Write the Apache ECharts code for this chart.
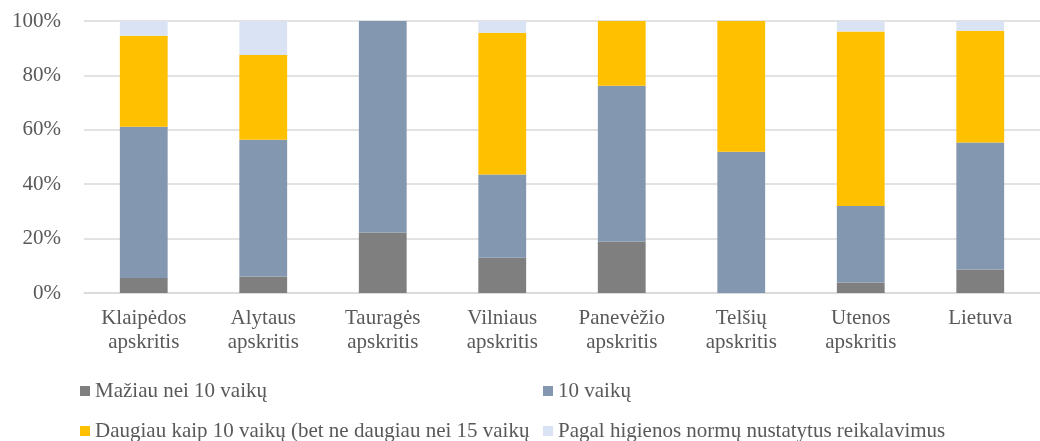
<!DOCTYPE html>
<html>
	<head>
		<meta charset="utf-8">
		<title>Grupės pagal vaikų skaičių</title>
		<style>
			html, body {
				width: 100%;
				height: 100%;
				margin: 0;
				padding: 0;
				background: #fff;
			}
			#main {
				width: 1040px;
				height: 441px;
			}
		</style>
	</head>
	<body>
		<div id="main"></div>
		<script src="https://cdn.jsdelivr.net/npm/echarts@6/dist/echarts.min.js"></script>
		<script>
			var categories = ['Klaipėdos\napskritis', 'Alytaus\napskritis', 'Tauragės\napskritis', 'Vilniaus\napskritis',
				'Panevėžio\napskritis', 'Telšių\napskritis', 'Utenos\napskritis', 'Lietuva'];
			var seriesNames = ['Mažiau nei 10 vaikų', '10 vaikų', 'Daugiau kaip 10 vaikų (bet ne daugiau nei 15 vaikų',
				'Pagal higienos normų nustatytus reikalavimus'];
			var lessThan10 = [5.5, 6.1, 22.2, 13.0, 18.9, 0, 3.9, 8.6];
			var exactly10 = [55.6, 50.2, 77.8, 30.6, 57.3, 51.9, 28.1, 46.7];
			var moreThan10 = [33.5, 31.2, 0, 52.1, 23.8, 48.1, 64.1, 41.1];
			var byHygiene = [5.4, 12.5, 0, 4.3, 0, 0, 3.9, 3.6];
			var yTicks = [0, 20, 40, 60, 80, 100];
			var colors = ['#7f7f7f', '#8497b0', '#ffc000', '#dae3f3'];

			var font = '"Liberation Serif", "Times New Roman", serif';
			var textColor = '#595959';
			var values = [lessThan10, exactly10, moreThan10, byHygiene];

			function legendAt(name, left, top) {
				return {
					data: [name],
					left: left,
					top: top,
					padding: 0,
					itemWidth: 10,
					itemHeight: 10,
					icon: 'rect',
					selectedMode: false,
					textStyle: {
						fontFamily: font,
						fontSize: 21,
						color: textColor,
						lineHeight: 24
					}
				};
			}

			var series = [];
			for (var i = 0; i < seriesNames.length; i++) {
				series.push({
					name: seriesNames[i],
					type: 'bar',
					stack: 'total',
					barWidth: '40%',
					itemStyle: {
						color: colors[i]
					},
					data: values[i]
				});
			}

			var chart = echarts.init(document.getElementById('main'), null, {renderer: 'canvas'});
			chart.setOption({
				animation: false,
				color: colors,
				grid: {
					left: 84,
					right: -10,
					top: 21,
					bottom: 148
				},
				legend: [
					legendAt(seriesNames[0], 80, 379),
					legendAt(seriesNames[1], 543, 379),
					legendAt(seriesNames[2], 80, 419),
					legendAt(seriesNames[3], 543, 419)
				],
				xAxis: {
					type: 'category',
					data: categories,
					axisLine: {
						lineStyle: {
							color: '#d9d9d9',
							width: 1.5
						}
					},
					axisTick: {
						show: false
					},
					axisLabel: {
						interval: 0,
						margin: 13,
						fontFamily: font,
						fontSize: 21,
						lineHeight: 24,
						color: textColor
					}
				},
				yAxis: {
					type: 'value',
					min: yTicks[0],
					max: yTicks[yTicks.length - 1],
					interval: yTicks[1] - yTicks[0],
					axisLine: {
						show: false
					},
					axisTick: {
						show: false
					},
					splitLine: {
						lineStyle: {
							color: '#d9d9d9',
							width: 1.5
						}
					},
					axisLabel: {
						margin: 23,
						fontFamily: font,
						fontSize: 21,
						color: textColor,
						formatter: '{value}%'
					}
				},
				series: series
			});
		</script>
	</body>
</html>
